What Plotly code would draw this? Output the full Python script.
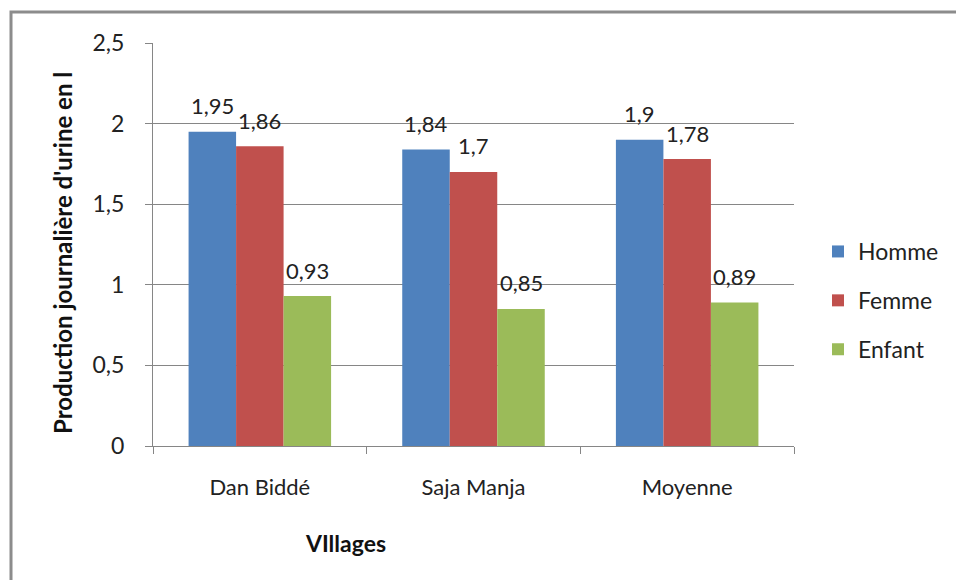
import plotly.graph_objects as go

categories = ["Dan Biddé", "Saja Manja", "Moyenne"]
series_names = ["Homme", "Femme", "Enfant"]
homme = [1.95, 1.84, 1.9]
femme = [1.86, 1.7, 1.78]
enfant = [0.93, 0.85, 0.89]
colors = ["#4F81BD", "#C0504D", "#9BBB59"]
y_ticks = [0, 0.5, 1, 1.5, 2, 2.5]

FONT = "Lato"
W, H = 956, 580
L, R, T, B = 153, 162, 43, 134
pw, ph = W - L - R, H - T - B
BARGAP = 0.333
bar_px = pw / len(categories) * (1 - BARGAP) / len(series_names)

def px_x(px):
    return (px - L) / pw

def px_y(py):
    return (H - B - py) / ph

fig = go.Figure()
all_vals = [homme, femme, enfant]
for i, (name, vals, col) in enumerate(zip(series_names, all_vals, colors)):
    fig.add_trace(go.Bar(
        name=name, x=categories, y=vals, legendgroup=name,
        marker=dict(color=col, line=dict(width=0)),
    ))
    for c, v in zip(categories, vals):
        fig.add_annotation(
            x=c, y=v, xref="x", yref="y",
            text=str(v).replace(".", ","), showarrow=False,
            xshift=(i - 1) * bar_px, yshift=26,
            xanchor="center", yanchor="middle",
            font=dict(family=FONT, size=22, color="#222222"),
        )

fig.update_layout(
    width=W, height=H,
    margin=dict(l=L, r=R, t=T, b=B),
    paper_bgcolor="white", plot_bgcolor="white",
    barmode="group", bargap=BARGAP, bargroupgap=0,
    separators=", ",
    font=dict(family=FONT, size=22, color="#222222"),
    showlegend=True,
    legend=dict(
        x=px_x(818), y=px_y(230), xanchor="left", yanchor="top",
        font=dict(family=FONT, size=23, color="#222222"),
        tracegroupgap=16, itemwidth=30,
        bgcolor="rgba(0,0,0,0)",
    ),
)
fig.update_xaxes(
    showline=True, linecolor="#868686", linewidth=1,
    ticks="outside", ticklen=7, tickcolor="#868686",
    tickson="boundaries",
    tickfont=dict(family=FONT, size=22, color="#222222"),
    ticklabelstandoff=22,
    showgrid=False,
)
fig.update_yaxes(
    range=[0, 2.5], tickvals=y_ticks,
    showline=True, linecolor="#868686", linewidth=1,
    ticks="outside", ticklen=7, tickcolor="#868686",
    showgrid=True, gridcolor="#868686", gridwidth=1,
    tickfont=dict(family=FONT, size=23, color="#222222"),
    ticklabelstandoff=16,
    zeroline=False,
)
fig.add_annotation(
    text="<b>Production journalière d'urine en l</b>", xref="paper", yref="paper",
    x=px_x(62), y=px_y(253), xanchor="center", yanchor="middle",
    textangle=-90, showarrow=False,
    font=dict(family=FONT, size=24, color="#111111"),
)
fig.add_annotation(
    text="<b>VIllages</b>", xref="paper", yref="paper",
    x=px_x(345), y=px_y(543), xanchor="center", yanchor="middle",
    showarrow=False, font=dict(family=FONT, size=23, color="#111111"),
)
fig.add_shape(
    type="rect", xref="paper", yref="paper",
    x0=px_x(11), x1=px_x(1100), y0=px_y(700), y1=px_y(12),
    line=dict(color="#8c8c8c", width=3), fillcolor="rgba(0,0,0,0)",
    layer="above",
)
fig.write_html("out.html")
